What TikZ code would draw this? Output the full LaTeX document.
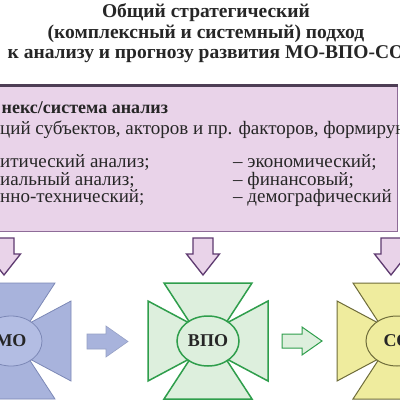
\documentclass[tikz,border=0pt]{standalone}
\usepackage{fontspec}
\setmainfont{Liberation Serif}
\usetikzlibrary{shapes.geometric}
\begin{document}
\begin{tikzpicture}[x=1pt,y=-1pt,
  txt/.style={text=black!85, inner sep=0pt},
  ttl/.style={txt, font=\fontsize{19.5}{19.5}\selectfont\bfseries, anchor=base},
  boxtxt/.style={txt, font=\fontsize{19}{19}\selectfont, anchor=base west},
  downarr/.style={fill=lilacfill, draw=purpleline, line width=1.3pt, line join=miter},
  wingpath/.style={line join=miter},
]
\definecolor{lilacfill}{HTML}{E9D3E9}
\definecolor{boxline}{HTML}{8E6C98}
\definecolor{boxtop}{HTML}{4E3E55}
\definecolor{purpleline}{HTML}{5E3A70}
\definecolor{bluefill}{HTML}{A8B3DC}
\definecolor{blueline}{HTML}{7C88B6}
\definecolor{bluecirc}{HTML}{B3BDE3}
\definecolor{greenfill}{HTML}{DDEFDD}
\definecolor{greenline}{HTML}{2F9E4C}
\definecolor{yellowfill}{HTML}{EFEC9E}
\definecolor{yellowline}{HTML}{6E6C3A}
\useasboundingbox (0,0) rectangle (400,400);
\fill[white] (0,0) rectangle (400,400);
\begin{scope}
\clip (0,0) rectangle (400,400);
% ---- title
\node[ttl] (t1) at (206,17.5) {Общий стратегический};
\node[ttl] (t2) at (206,38) {(комплексный и системный) подход};
\node[ttl] (t3) at (206,58.5) {к анализу и прогнозу развития МО-ВПО-СО};
% ---- main box
\node[fill=lilacfill, draw=boxline, line width=1.2pt, minimum width=410pt, minimum height=146pt, anchor=north east, inner sep=0pt] (box) at (398,85) {};
\draw[boxtop, line width=3pt] (box.north west) -- (box.north east);
\node[boxtxt, font=\fontsize{18}{18}\selectfont\bfseries] (b1) at (1.5,113) {некс/система анализ};
\node[boxtxt] (b2) at (0,134) {ций субъектов, акторов и пр. факторов, формирую};
\node[boxtxt] (l1) at (0,167) {итический анализ;};
\node[boxtxt] (l2) at (0,185) {иальный анализ;};
\node[boxtxt] (l3) at (0,202.5) {нно-технический;};
\node[boxtxt] (r1) at (233,167) {– экономический;};
\node[boxtxt] (r2) at (233,185) {– финансовый;};
\node[boxtxt] (r3) at (233,202.5) {– демографический};
% ---- down arrows
\foreach \cx/\nm in {4/da, 203/db, 391/dc}{
  \draw[downarr] (\cx-10,238) -- (\cx+10,238) -- (\cx+10,254) -- (\cx+16.5,254)
     -- (\cx,275) -- (\cx-16.5,254) -- (\cx-10,254) -- cycle;
  \coordinate (\nm) at (\cx,275);
}
% ---- crosses
\foreach \cx/\fc/\lc/\cc/\lw/\nm/\lab in {11/bluefill/blueline/bluecirc/0.8/mo/МО, 208/greenfill/greenline/greenfill/1.5/vpo/ВПО, 397/yellowfill/yellowline/yellowfill/1/so/СО}{
  \begin{scope}[shift={(\cx,341)}]
    \draw[wingpath, fill=\fc, draw=\lc, line width=\lw pt] (-44,-58) -- (44,-58) -- (16,-15) -- (-16,-15) -- cycle;
    \draw[wingpath, fill=\fc, draw=\lc, line width=\lw pt] (-44,58) -- (44,58) -- (16,15) -- (-16,15) -- cycle;
    \draw[wingpath, fill=\fc, draw=\lc, line width=\lw pt] (-60,-40) -- (-60,40) -- (-15,16) -- (-15,-16) -- cycle;
    \draw[wingpath, fill=\fc, draw=\lc, line width=\lw pt] (60,-40) -- (60,40) -- (15,16) -- (15,-16) -- cycle;
  \end{scope}
  \node[ellipse, minimum width=62pt, minimum height=50pt, inner sep=0pt, fill=\cc, draw=\lc, line width=\lw pt, font=\fontsize{18}{18}\selectfont\bfseries, text=black!85] (\nm) at (\cx,341) {\lab};
}
% ---- horizontal arrows
\draw[fill=bluefill, draw=blueline!80, line width=0.6pt, line join=miter] (87,334) -- (106,334) -- (106,326) -- (128,341.5) -- (106,357) -- (106,349) -- (87,349) -- cycle;
\coordinate (ha) at (87,341.5);
\draw[fill=greenfill, draw=greenline, line width=1pt, line join=miter] (282,334) -- (302,334) -- (302,327) -- (322,341) -- (302,355) -- (302,348) -- (282,348) -- cycle;
\coordinate (hb) at (282,341);
\end{scope}
\end{tikzpicture}
\end{document}
